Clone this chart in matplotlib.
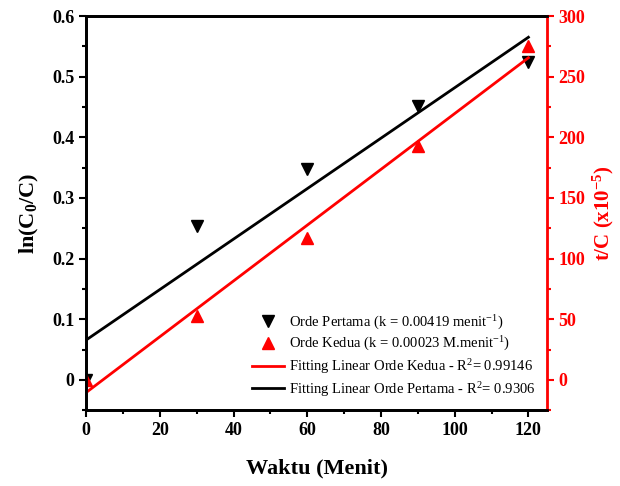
import numpy as np
import matplotlib.pyplot as plt
from matplotlib.ticker import MultipleLocator

plt.rcParams['font.family'] = ['Liberation Serif', 'DejaVu Serif']
plt.rcParams['mathtext.default'] = 'regular'

waktu = [0, 30, 60, 90, 120]
ln_c0_c = [0.0, 0.253, 0.348, 0.451, 0.525]      # orde pertama
t_per_c = [0.0, 53, 117, 193, 275]                # orde kedua (x10^-5)

lbl_1 = 'Orde Pertama (k = 0.00419 menit$^{-1}$)'
lbl_2 = 'Orde Kedua (k = 0.00023 M.menit$^{-1}$)'
lbl_fit2 = 'Fitting Linear Orde Kedua - R$^2$= 0.99146'
lbl_fit1 = 'Fitting Linear Orde Pertama - R$^2$= 0.9306'

fig = plt.figure(figsize=(6.2, 4.86), dpi=100)
ax = fig.add_axes([0.139, 0.156, 0.743, 0.811])
ax2 = ax.twinx()

x = np.array(waktu)
# linear fits
p1 = np.polyfit(x, ln_c0_c, 1)
p2 = np.polyfit(x, t_per_c, 1)

h1, = ax.plot(waktu, ln_c0_c, 'v', color='black', markersize=9, linestyle='none')
hf1, = ax.plot(x, np.polyval(p1, x), color='black', lw=2)
h2, = ax2.plot(waktu, t_per_c, '^', color='red', markersize=9, linestyle='none')
hf2, = ax2.plot(x, np.polyval(p2, x), color='red', lw=2)

ax.set_xlim(0, 125)
ax.set_ylim(-0.05, 0.6)
ax2.set_ylim(-25, 300)

ax.xaxis.set_major_locator(MultipleLocator(20))
ax.xaxis.set_minor_locator(MultipleLocator(10))
ax.yaxis.set_minor_locator(MultipleLocator(0.05))
ax2.yaxis.set_major_locator(MultipleLocator(50))
ax2.yaxis.set_minor_locator(MultipleLocator(25))

ax.set_yticks(np.arange(0, 0.61, 0.1))
ax.set_yticklabels(['0', '0.1', '0.2', '0.3', '0.4', '0.5', '0.6'])

for lab in ax.get_xticklabels() + ax.get_yticklabels():
    lab.set_fontweight('bold')
    lab.set_fontsize(13)
for lab in ax2.get_yticklabels():
    lab.set_fontweight('bold')
    lab.set_fontsize(13)
    lab.set_color('red')

ax.tick_params(axis='x', which='both', direction='out', top=False, width=1.5)
ax.tick_params(axis='x', which='major', length=5)
ax.tick_params(axis='x', which='minor', length=3)
ax2.tick_params(axis='x', which='both', direction='in', top=True, bottom=False,
                labeltop=False, labelbottom=False, width=1.5)
ax2.tick_params(axis='x', which='major', length=5)
ax2.tick_params(axis='x', which='minor', length=3)
ax.tick_params(axis='y', which='major', direction='out', length=5, width=1.5)
ax.tick_params(axis='y', which='minor', direction='out', length=3, width=1.5)
ax2.tick_params(axis='y', which='major', direction='out', length=5, width=1.5, colors='red')
ax2.tick_params(axis='y', which='minor', direction='out', length=3, width=1.5, colors='red')

for sp in ['left', 'bottom', 'top']:
    ax.spines[sp].set_linewidth(2)
    ax2.spines[sp].set_linewidth(2)
ax2.spines['right'].set_color('red')
ax2.spines['right'].set_linewidth(2)

ax.set_xlabel('Waktu (Menit)', fontsize=16, fontweight='bold', labelpad=14)
ax.set_ylabel('ln(C$_0$/C)', fontsize=16, fontweight='bold', labelpad=8)
ax2.set_ylabel('t/C (x10$^{-5}$)', fontsize=15, fontweight='bold', color='red',
               rotation=90, labelpad=4)

ax2.legend([h1, h2, hf2, hf1], [lbl_1, lbl_2, lbl_fit2, lbl_fit1],
           loc='lower right', frameon=False, fontsize=10.5,
           handlelength=2.2, handletextpad=0.3, labelspacing=0.25,
           borderaxespad=0.4, bbox_to_anchor=(1.0, 0.0))

fig.savefig('out.png', dpi=100)
